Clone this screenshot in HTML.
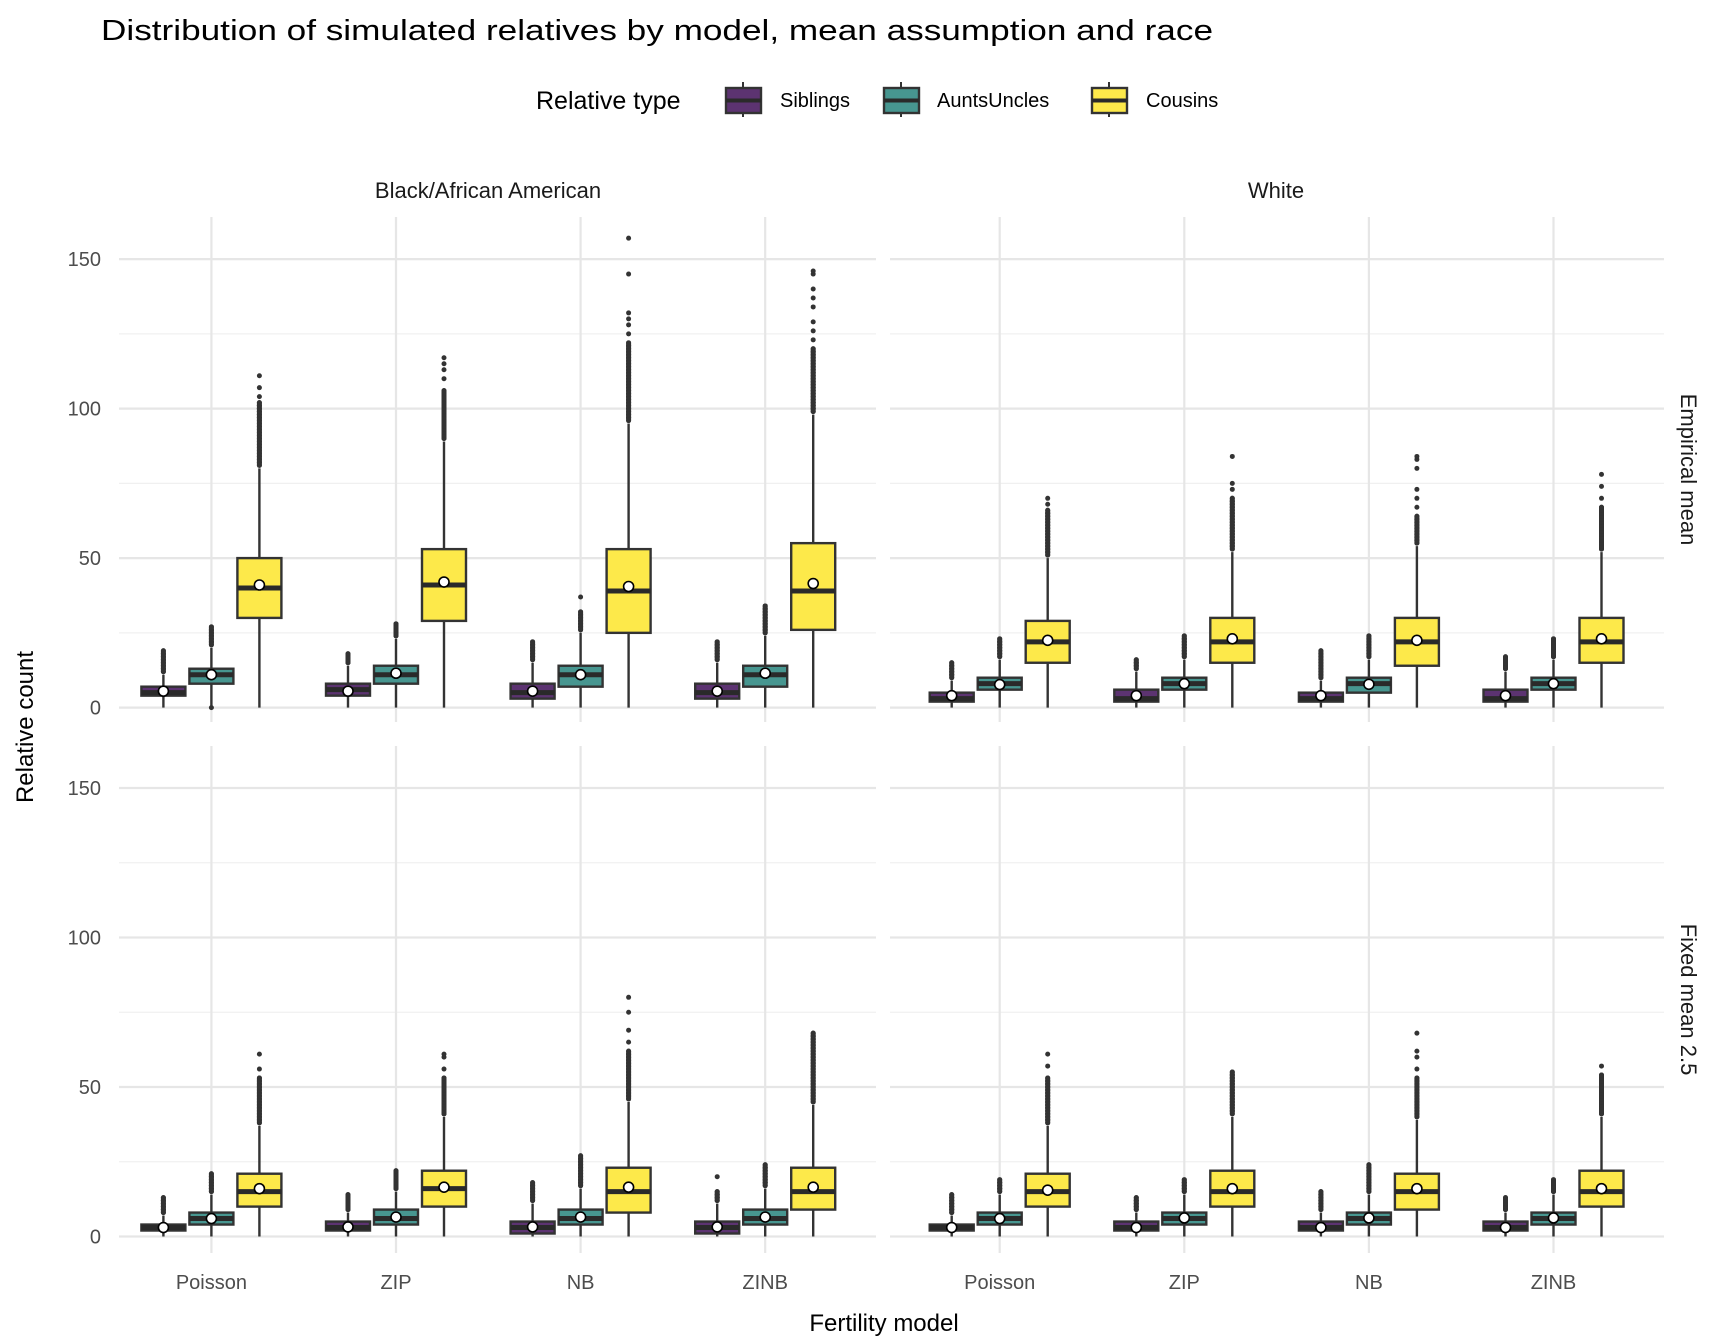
<!DOCTYPE html>
<html><head><meta charset="utf-8"><style>
html,body{margin:0;padding:0;background:#fff}
svg{display:block;font-family:"Liberation Sans",Arial,sans-serif}
</style></head><body>
<svg id="chart" width="1728" height="1344" viewBox="0 0 1728 1344" xmlns="http://www.w3.org/2000/svg">
<text x="101" y="40" font-size="29" fill="#000" textLength="1112" lengthAdjust="spacingAndGlyphs">Distribution of simulated relatives by model, mean assumption and race</text>
<g id="legend"></g>
<g id="plot"></g>
<text x="884" y="1331" font-size="24" text-anchor="middle" fill="#000">Fertility model</text>
<text transform="translate(33,727) rotate(-90)" font-size="24" text-anchor="middle" fill="#000">Relative count</text>
</svg>
<script>
const models = ["Poisson","ZIP","NB","ZINB"];
const types = ["Siblings","AuntsUncles","Cousins"];
const races = ["Black/African American","White"];
const means = ["Empirical mean","Fixed mean 2.5"];
const yTicks = [0,50,100,150];
const yMinor = [25,75,125];
// stats per [mean][race][model][type]: [q1, median, q3, upperWhisker, mean, outLo, outHi, ...extraOutliers]
const statsEmpBlack = [
 [[4,5,7,11,5.5,12,19],[8,11,13,20,11,21,27,0],[30,40,50,80,41,81,102,104,107,111]],
 [[4,6,8,14,5.5,15,18],[8,11,14,23,11.5,24,28],[29,41,53,89,42,90,106,110,113,115,117]],
 [[3,5,8,15,5.5,16,22],[7,11,14,25,11,26,32,37],[25,39,53,95,40.5,96,122,125,128,130,132,145,157]],
 [[3,5,8,15,5.5,16,22],[7,11,14,24,11.5,25,34],[26,39,55,98,41.5,99,120,123,126,129,134,137,140,145,146]]
];
const statsEmpWhite = [
 [[2,3,5,9,4,10,15],[6,8,10,16,7.7,17,23],[15,22,29,50,22.5,51,66,68,70]],
 [[2,3,6,12,4,13,16],[6,8,10,16,8,17,24],[15,22,30,52,23,53,70,73,75,84]],
 [[2,3,5,9,4,10,19],[5,8,10,16,7.8,17,24],[14,22,30,54,22.5,55,64,67,70,73,80,83,84]],
 [[2,3,6,12,4,13,17],[6,8,10,16,8,17,23],[15,22,30,52,23,53,67,70,74,78]]
];
const statsFixBlack = [
 [[2,3,4,7,3,8,13],[4,6,8,14,6,15,21],[10,15,21,37,16,38,53,56,61]],
 [[2,3,5,8,3.2,9,14],[4,6,9,15,6.5,16,22],[10,16,22,40,16.5,41,53,56,60,61]],
 [[1,3,5,11,3.2,12,18],[4,6,9,16,6.5,17,27],[8,15,23,45,16.5,46,62,65,69,75,80]],
 [[1,3,5,11,3.2,12,15,20],[4,6,9,16,6.5,17,24],[9,15,23,44,16.5,45,68]]
];
const statsFixWhite = [
 [[2,3,4,7,3,8,14],[4,6,8,14,6,15,19],[10,15,21,37,15.5,38,53,57,61]],
 [[2,3,5,8,3,9,13],[4,6,8,14,6.2,15,19],[10,15,22,40,16,41,55]],
 [[2,3,5,8,3,9,15],[4,6,8,14,6.2,15,24],[9,15,21,39,16,40,53,56,60,62,68]],
 [[2,3,5,8,3,9,13],[4,6,8,14,6.2,15,19],[10,15,22,40,16,41,54,57]]
];
const panelStats = [[statsEmpBlack,statsEmpWhite],[statsFixBlack,statsFixWhite]];
const fills = ["#5c3371","#479690","#fde94a"];
const NS="http://www.w3.org/2000/svg";
function mk(tag,attrs,parent){const e=document.createElementNS(NS,tag);for(const k in attrs)e.setAttribute(k,attrs[k]);parent.appendChild(e);return e;}
const plot=document.getElementById('plot');
const panelX=[[119,876],[890,1664]];
const catStart=[211.4,999.7];
const stripX=[488,1276];
const zeroY=[707.6,1236.5];
const panelY=[[217,722],[746,1253]];
const pxPerUnit=2.99;
const catStep=184.6, dodge=48, boxW=44;
function xScale(col,i){return catStart[col]+i*catStep;}
function yScale(row,v){return zeroY[row]-v*pxPerUnit;}
for(let r=0;r<2;r++){
 for(let c=0;c<2;c++){
  const g=mk('g',{},plot);
  
  
  for(const v of yMinor){const l=mk('line',{x1:panelX[c][0],x2:panelX[c][1],y1:yScale(r,v),y2:yScale(r,v),stroke:'#f0f0f0','stroke-width':1.2},g);
   }
  for(const v of yTicks){const l=mk('line',{x1:panelX[c][0],x2:panelX[c][1],y1:yScale(r,v),y2:yScale(r,v),stroke:'#e6e6e6','stroke-width':2.2},g);
   }
  models.forEach((m,i)=>{const l=mk('line',{x1:xScale(c,i),x2:xScale(c,i),y1:panelY[r][0],y2:panelY[r][1],stroke:'#e6e6e6','stroke-width':2.2},g);
   });
  const S=panelStats[r][c];
  models.forEach((m,i)=>{
   types.forEach((t,j)=>{
    const s=S[i][j];
    const cx=xScale(c,i)+(j-1)*dodge;
    const bg=mk('g',{},g);
    
    
    const outs=[];
    for(let v=s[5];v<=s[6];v++)outs.push(v);
    for(let k=7;k<s.length;k++)outs.push(s[k]);
    mk('line',{x1:cx,x2:cx,y1:yScale(r,0),y2:yScale(r,s[2]),stroke:'#333','stroke-width':2.4},bg);
    mk('line',{x1:cx,x2:cx,y1:yScale(r,s[2]),y2:yScale(r,s[3]),stroke:'#333','stroke-width':2.4},bg);
    for(const v of outs){
     if(s[5]<=v&&v<s[6]){mk('line',{x1:cx,x2:cx,y1:yScale(r,v),y2:yScale(r,v+1),stroke:'#333','stroke-width':5,'stroke-linecap':'round'},bg);}
     const d=mk('circle',{cx:cx,cy:yScale(r,v),r:2.5,fill:'#333'},bg);
     
    }
    const rect=mk('rect',{x:cx-boxW/2,y:yScale(r,s[2]),width:boxW,height:yScale(r,s[0])-yScale(r,s[2]),fill:fills[j],stroke:'#333','stroke-width':2.4},bg);
    
    const med=mk('line',{x1:cx-boxW/2,x2:cx+boxW/2,y1:yScale(r,s[1]),y2:yScale(r,s[1]),stroke:'#2a2a2a','stroke-width':5},bg);
    
    const mp=mk('circle',{cx:cx,cy:yScale(r,s[4]),r:5,fill:'#fff',stroke:'#000','stroke-width':1.6},bg);
    
   });
  });
  if(c===0){for(const v of yTicks){const t=mk('text',{x:101,y:yScale(r,v)+7,'font-size':20,'text-anchor':'end',fill:'#4d4d4d'},plot);t.textContent=v;
   }}
  if(r===1){models.forEach((m,i)=>{const t=mk('text',{x:xScale(c,i),y:1289,'font-size':20,'text-anchor':'middle',fill:'#4d4d4d'},plot);t.textContent=m;
   });}
 }
}
races.forEach((rc,c)=>{const t=mk('text',{x:stripX[c],y:198,'font-size':22,'text-anchor':'middle',fill:'#1a1a1a'},plot);t.textContent=rc;
 });
means.forEach((mn,r)=>{const cy=(panelY[r][0]+panelY[r][1])/2;const t=mk('text',{transform:`translate(1681,${cy}) rotate(90)`,'font-size':22,'text-anchor':'middle',fill:'#1a1a1a'},plot);t.textContent=mn;
 });
const lg=document.getElementById('legend');
const lt=mk('text',{x:536,y:109,'font-size':25,fill:'#000'},lg);lt.textContent='Relative type';

const keyX=[725,883,1091], labX=[780,937,1146];
types.forEach((t,j)=>{
 const e=mk('g',{},lg);
 
 
 const cx=keyX[j]+18;
 mk('line',{x1:cx,x2:cx,y1:82,y2:117,stroke:'#333','stroke-width':2},e);
 mk('rect',{x:keyX[j]+1,y:88,width:35,height:25,fill:fills[j],stroke:'#333','stroke-width':2.4},e);
 mk('line',{x1:keyX[j]+1,x2:keyX[j]+36,y1:100.5,y2:100.5,stroke:'#2a2a2a','stroke-width':4},e);
 const tx=mk('text',{x:labX[j],y:107,'font-size':20,fill:'#000'},e);tx.textContent=t;
});
</script>
</body></html>
